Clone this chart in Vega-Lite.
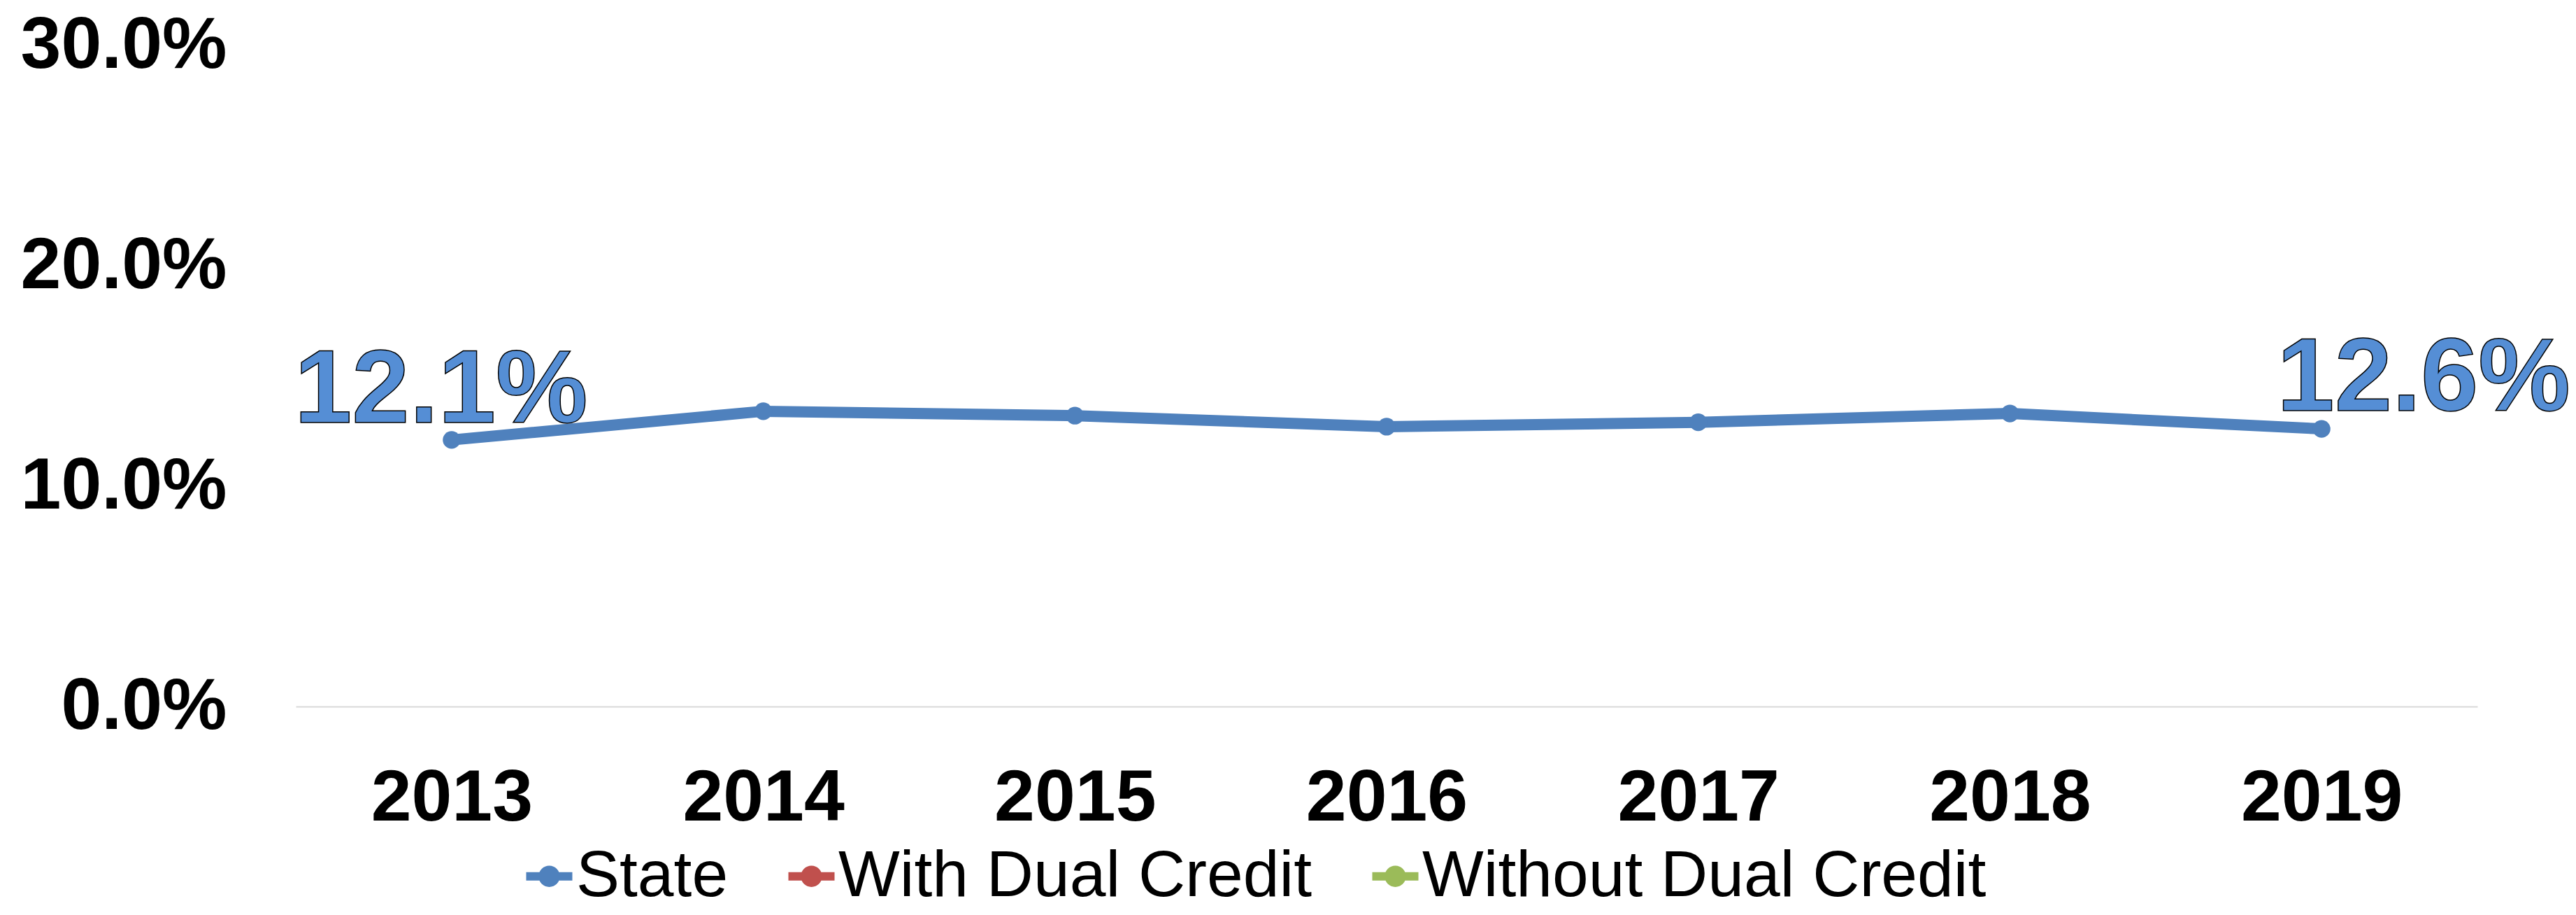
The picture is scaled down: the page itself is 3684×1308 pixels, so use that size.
{
  "$schema": "https://vega.github.io/schema/vega-lite/v6.json",
  "width": 3120,
  "height": 945,
  "autosize": {"type": "none"},
  "padding": {"left": 423, "top": 65, "right": 141, "bottom": 298},
  "background": "white",
  "config": {"view": {"stroke": null}, "font": "Liberation Sans"},
  "data": {
    "values": [
      {"year": "2013", "series": "State", "rate": 0.121},
      {"year": "2014", "series": "State", "rate": 0.134},
      {"year": "2015", "series": "State", "rate": 0.132},
      {"year": "2016", "series": "State", "rate": 0.127},
      {"year": "2017", "series": "State", "rate": 0.129},
      {"year": "2018", "series": "State", "rate": 0.133},
      {"year": "2019", "series": "State", "rate": 0.126}
    ]
  },
  "encoding": {
    "x": {
      "field": "year",
      "type": "ordinal",
      "scale": {"type": "point", "padding": 0.5},
      "axis": {
        "title": null,
        "labelAngle": 0,
        "labelFontSize": 104,
        "labelFontWeight": "bold",
        "labelColor": "#000000",
        "labelPadding": 80,
        "labelLimit": 2000,
        "ticks": false,
        "domainColor": "#D9D9D9",
        "domainWidth": 2,
        "grid": false
      }
    },
    "y": {
      "field": "rate",
      "type": "quantitative",
      "scale": {"domain": [0, 0.3], "nice": false},
      "axis": {
        "title": null,
        "values": [0, 0.1, 0.2, 0.3],
        "format": ".1%",
        "labelFontSize": 104,
        "labelFontWeight": "bold",
        "labelColor": "#000000",
        "labelPadding": 99,
        "labelLimit": 2000,
        "ticks": false,
        "domain": false,
        "grid": false
      }
    },
    "color": {
      "field": "series",
      "type": "nominal",
      "scale": {
        "domain": ["State", "With Dual Credit", "Without Dual Credit"],
        "range": ["#4F81BD", "#C0504D", "#9BBB59"]
      },
      "legend": {
        "orient": "none",
        "legendX": 316,
        "legendY": 1141,
        "direction": "horizontal",
        "title": null,
        "labelFontSize": 93,
        "labelColor": "#000000",
        "labelLimit": 2000,
        "labelOffset": -8,
        "columnPadding": 72,
        "symbolType": "M-1,-0.18H1V0.18H-1Z M0,-0.46A0.46,0.46 0 1,1 0,0.46A0.46,0.46 0 1,1 0,-0.46Z",
        "symbolSize": 4356,
        "symbolStrokeWidth": 0,
        "symbolOpacity": 1,
        "encode": {
          "symbols": {
            "update": {
              "fill": {"scale": "color", "field": "value"},
              "opacity": {"value": 1}
            }
          }
        }
      }
    }
  },
  "layer": [
    {
      "mark": {"type": "line", "strokeWidth": 16}
    },
    {
      "mark": {"type": "point", "filled": true, "size": 640, "opacity": 1}
    },
    {
      "transform": [{"filter": "datum.year == '2013'"}],
      "mark": {
        "type": "text",
        "fontSize": 148,
        "fontWeight": "bold",
        "fill": "#558ED5",
        "stroke": "#000000",
        "strokeWidth": 1.5,
        "align": "center",
        "baseline": "alphabetic",
        "dx": -15,
        "dy": -25
      },
      "encoding": {"text": {"field": "rate", "type": "quantitative", "format": ".1%"}, "color": {"value": "#558ED5"}}
    },
    {
      "transform": [{"filter": "datum.year == '2019'"}],
      "mark": {
        "type": "text",
        "fontSize": 148,
        "fontWeight": "bold",
        "fill": "#558ED5",
        "stroke": "#000000",
        "strokeWidth": 1.5,
        "align": "center",
        "baseline": "alphabetic",
        "dx": 146,
        "dy": -26
      },
      "encoding": {"text": {"field": "rate", "type": "quantitative", "format": ".1%"}, "color": {"value": "#558ED5"}}
    }
  ]
}
